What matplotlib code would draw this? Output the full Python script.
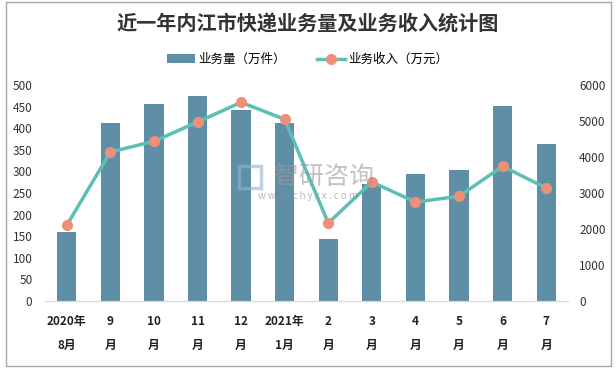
import matplotlib.pyplot as plt
import numpy as np
from matplotlib.patches import Rectangle

plt.rcParams["font.family"] = ["Noto Sans CJK SC", "DejaVu Sans"]

months = ["2020年\n8月", "9\n月", "10\n月", "11\n月", "12\n月", "2021年\n1月",
          "2\n月", "3\n月", "4\n月", "5\n月", "6\n月", "7\n月"]
volume = [160, 411, 457, 474, 443, 411, 144, 272, 295, 304, 451, 363]
revenue = [2103, 4139, 4436, 4972, 5519, 5047, 2167, 3306, 2750, 2908, 3742, 3139]

fig = plt.figure(figsize=(6.16, 3.68), dpi=100)
ax1 = fig.add_axes([0.073, 0.182, 0.849, 0.587])
ax2 = ax1.twinx()

x = np.arange(len(months))
ax1.bar(x, volume, width=0.44, color="#5F8FA6", label="业务量（万件）", zorder=2)
ax2.plot(x, revenue, color="#5BBFB5", lw=2.5, marker="o", ms=7,
         mfc="#EE9078", mec="#EE9078", label="业务收入（万元）", zorder=3)

ax1.set_xlim(-0.5, len(months) - 0.5)
ax1.set_ylim(0, 500)
ax2.set_ylim(0, 6000)
ax1.set_yticks(range(0, 501, 50))
ax2.set_yticks(range(0, 6001, 1000))
ax1.set_xticks(x)
ax1.set_xticklabels(months, fontsize=8.5, fontweight="bold", linespacing=2.1,
                    color="#222222")
ax1.tick_params(axis="x", length=0, pad=10)
ax1.tick_params(axis="y", length=0, pad=9, labelsize=8.5, labelcolor="#333333")
ax2.tick_params(axis="y", length=0, pad=8, labelsize=8.5, labelcolor="#333333")

for a in (ax1, ax2):
    for s in ["top", "left", "right"]:
        a.spines[s].set_visible(False)
    a.spines["bottom"].set_color("#D9D9D9")

# watermark
fig.text(0.526, 0.519, "智研咨询", fontsize=18, color="#9A9A9A", alpha=0.6,
         ha="center", va="center", zorder=10)
fig.text(0.5, 0.467, "w w w . c h y x x . c o m", fontsize=7, color="#8A8A8A",
         alpha=0.6, ha="center", va="center", zorder=10)
fig.patches.append(Rectangle((0.388, 0.49), 0.036, 0.06, transform=fig.transFigure,
                             fill=False, edgecolor="#8FB4D8", lw=2.5, alpha=0.6,
                             zorder=10))

fig.suptitle("近一年内江市快递业务量及业务收入统计图", y=0.962, fontsize=14.5,
             fontweight="bold", color="#333333")
h1, l1 = ax1.get_legend_handles_labels()
h2, l2 = ax2.get_legend_handles_labels()
fig.legend(h1 + h2, l1 + l2, loc="center", bbox_to_anchor=(0.5, 0.838), ncol=2,
           frameon=False, fontsize=9, handlelength=2.2, columnspacing=2.5,
           handletextpad=0.3)

fig.patches.append(Rectangle((0.009, 0.005), 0.983, 0.99, transform=fig.transFigure,
                             fill=False, edgecolor="#A6A6A6", lw=1))

fig.savefig("out.png", dpi=100)
